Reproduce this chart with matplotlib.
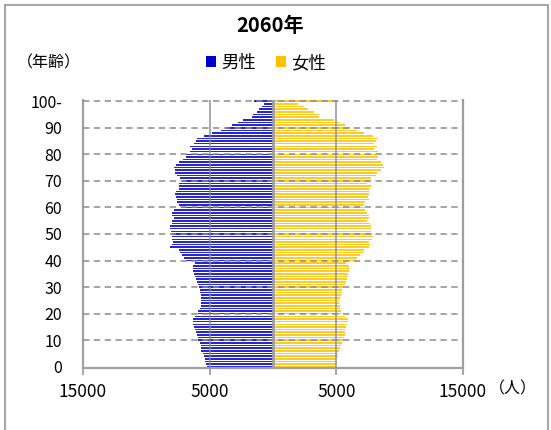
import matplotlib
matplotlib.use("Agg")
import matplotlib.pyplot as plt
from matplotlib.patches import Patch, Rectangle

plt.rcParams['font.family'] = ['Noto Sans CJK JP', 'DejaVu Sans']

title = "2060年"
ages = list(range(0, 101))
age_ticks = [0, 10, 20, 30, 40, 50, 60, 70, 80, 90, 100]
age_tick_labels = ["0", "10", "20", "30", "40", "50", "60", "70", "80", "90", "100-"]
x_ticks = [-15000, -5000, 5000, 15000]
x_tick_labels = ["15000", "5000", "5000", "15000"]
series_names = ["男性", "女性"]

# population by single year of age, 0 .. 100+
male = [5250, 5300, 5400, 5400, 5450, 5550, 5650, 5650, 5700, 5800,
        5900, 5950, 6000, 6100, 6150, 6250, 6300, 6300, 6350, 6150,
        5950, 5900, 5800, 5700, 5650, 5650, 5650, 5700, 5750, 5800,
        5850, 5950, 6000, 6100, 6150, 6200, 6300, 6350, 6300, 6150,
        6900, 7000, 7150, 7350, 7450, 8100, 7950, 7900, 7950, 8000,
        8000, 8050, 8150, 8100, 8000, 7950, 7850, 7950, 7950, 7850,
        7300, 7400, 7550, 7600, 7650, 7700, 7650, 7450, 7450, 7400,
        7200, 7350, 7550, 7750, 7700, 7800, 7650, 7450, 7100, 6850,
        6900, 6550, 6400, 6550, 6250, 6100, 6000, 5450, 4850, 4100,
        3700, 3200, 2750, 2400, 1650, 1600, 1300, 1100, 850, 700,
        1500]
female = [4950, 5000, 5050, 5050, 5100, 5150, 5200, 5250, 5350, 5450,
          5500, 5600, 5650, 5700, 5750, 5800, 5850, 5900, 5900, 5700,
          5450, 5350, 5300, 5250, 5200, 5200, 5250, 5350, 5450, 5450,
          5500, 5700, 5800, 5850, 5900, 5900, 6000, 6050, 6000, 5750,
          6500, 6650, 6850, 7150, 7200, 7550, 7650, 7550, 7850, 7900,
          7850, 7750, 7750, 7700, 7650, 7450, 7550, 7550, 7400, 7300,
          7200, 7200, 7300, 7550, 7500, 7550, 7550, 7550, 7750, 7450,
          7550, 7750, 8150, 8200, 8500, 8750, 8700, 8500, 8200, 8300,
          8100, 8300, 8000, 8200, 7950, 8100, 8300, 7900, 7150, 6650,
          6100, 5700, 5250, 4800, 3600, 3650, 3200, 2800, 2450, 2000,
          5050]

male_color = "#0000CC"
female_color = "#FFC000"
grid_color = "#8C8C8C"
axis_color = "#A0A0A0"

W, H = 551, 430
fig = plt.figure(figsize=(W / 100, H / 100), dpi=100)

# outer chart frame
frame = Rectangle((5 / W, -0.2), (548 - 5) / W, (H - 5) / H + 0.2,
                  transform=fig.transFigure, fill=False,
                  edgecolor="#A6A6A6", linewidth=1.5)
fig.patches.append(frame)

ax = fig.add_axes([83 / W, (H - 368) / H, 380 / W, 268 / H])

ax.barh(ages, [-v for v in male], height=0.6, color=male_color,
        alpha=0.85, linewidth=0, zorder=2)
ax.barh(ages, female, height=0.6, color=female_color,
        alpha=0.85, linewidth=0, zorder=2)

ax.set_xlim(-15000, 15000)
ax.set_ylim(-0.45, 100.45)

# horizontal dashed grid
for a in age_ticks[1:]:
    ax.axhline(a, color=grid_color, linestyle=(0, (3.5, 2.5)), linewidth=1.3,
               alpha=0.85, zorder=3)
# vertical grid and centre line
for xv in [-5000, 5000]:
    ax.axvline(xv, color="#8C8C8C", linewidth=1.3, alpha=0.8, zorder=3)
ax.axvline(0, color=axis_color, linewidth=2, zorder=4)

for s in ["left", "bottom", "right"]:
    ax.spines[s].set_color(axis_color)
    ax.spines[s].set_linewidth(1.6)
ax.spines["top"].set_visible(False)

ax.set_yticks(age_ticks)
ax.set_yticklabels(age_tick_labels, fontsize=11.5)
ax.tick_params(axis="y", length=0, pad=15)
ax.set_xticks(x_ticks)
ax.set_xticklabels(x_tick_labels, fontsize=12.5)
ax.tick_params(axis="x", length=5, width=1.3, color=axis_color, pad=6)

fig.text(270 / W, 1 - 26 / H, title, ha="center", va="center",
         fontsize=14.5, fontweight="bold")
fig.text(17 / W, 1 - 63 / H, "（年齢）", ha="left", va="center", fontsize=11.5)
fig.text(489 / W, 1 - 389 / H, "（人）", ha="left", va="center", fontsize=11.5)

handles = [Patch(facecolor=male_color, edgecolor="none"),
           Patch(facecolor=female_color, edgecolor="none")]
fig.legend(handles, series_names, loc="center", ncol=2,
           bbox_to_anchor=(266 / W, 1 - 63 / H), frameon=False,
           fontsize=12.5, handlelength=0.6, handleheight=0.6,
           handletextpad=0.3, columnspacing=1.1)

fig.savefig("out.png", dpi=100)
